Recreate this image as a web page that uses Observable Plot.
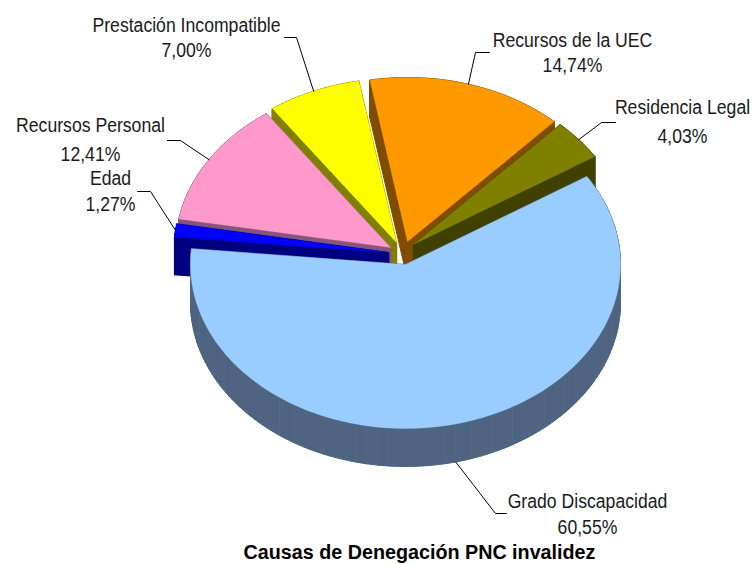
<!DOCTYPE html>
<html><head><meta charset="utf-8">
<style>html,body{margin:0;padding:0;background:#fff}svg{display:block}</style>
<script src="https://cdn.jsdelivr.net/npm/d3@7"></script>
<script src="https://cdn.jsdelivr.net/npm/@observablehq/plot@0.6"></script>
</head><body><div id="chart"></div>
<script>
const titleText = "Causas de Denegación PNC invalidez";
const names = ["Grado Discapacidad","Edad","Recursos Personal","Prestación Incompatible","Recursos de la UEC","Residencia Legal"];
const values = [60.55,1.27,12.41,7.00,14.74,4.03];
const topColors = ["#99CCFF","#0000FF","#FF99CC","#FFFF00","#FF9900","#808000"];
const wallColors = ["#4F6480","#000080","#85567A","#808000","#804C00","#404000"];
// layout only
const apexX = [405,388,390,396,407,413];
const apexY = [264,252,247,242,241,244];
const labelX = [587,110,90,186,572,682];
const nameY = [507,184,131,31,46,113];
const valueY = [533,210,160,56,71,142];
const elbowX = [495,150,180,296,475,601];
const elbowY = [513,191,140,37,52,122];
const endX = [506,137,167,284,489,615];
const rx = 215, ry = 164, depth = 38, startDeg = 57.5, W = 752, H = 564;
const paintOrder = [4,5,3,2,1,0];

const rad = d => d * Math.PI / 180;
const total = d3.sum(values);
const rim = (i, deg) => [apexX[i] + rx * Math.sin(rad(deg)), apexY[i] - ry * Math.cos(rad(deg))];
const cum = d3.cumsum(values);
const arc = i => {
  const a0 = startDeg + (i ? cum[i-1] : 0) / total * 360;
  const a1 = startDeg + cum[i] / total * 360;
  return [a0, a1];
};
const outline = i => {
  const [a0,a1] = arc(i);
  const n = Math.max(4, Math.ceil((a1-a0)/1.5));
  const pts = [[apexX[i],apexY[i]]];
  for (let k=0;k<=n;k++) pts.push(rim(i, a0+(a1-a0)*k/n));
  return pts;
};
const marks = [];
for (const i of paintOrder) {
  const pts = outline(i);
  const wall = [];
  pts.forEach((p,k)=>{
    const q = pts[(k+1)%pts.length];
    [p,q,[q[0],q[1]+depth],[p[0],p[1]+depth]].forEach(c=>wall.push({x:c[0],y:c[1],z:k,c:names[i]+" wall"}));
  });
  marks.push(Plot.line(wall,{x:"x",y:"y",z:"z",fill:"c",stroke:"c",strokeWidth:1,curve:"linear-closed"}));
  marks.push(Plot.line(pts.map(p=>({x:p[0],y:p[1],c:names[i]})),{x:"x",y:"y",fill:"c",stroke:"c",strokeWidth:0.3,curve:"linear-closed"}));
}
// leaders
const leaders = names.flatMap((n,i)=>{
  const [a0,a1]=arc(i), mid=(a0+a1)/2, s=rim(i,mid);
  const front = Math.cos(rad(mid))<0 ? depth : 0;
  return [[s[0],s[1]+front],[elbowX[i],elbowY[i]],[endX[i],elbowY[i]]].map(p=>({x:p[0],y:p[1],n}));
});
marks.push(Plot.line(leaders,{x:"x",y:"y",z:"n",stroke:"#000",strokeWidth:1}));
const fmt = v => v.toFixed(2).replace(".",",")+"%";
const labels = names.flatMap((n,i)=>[{t:n,x:labelX[i],y:nameY[i]},{t:fmt(values[i]),x:labelX[i],y:valueY[i]}]);
marks.push(Plot.text(labels,{x:"x",y:"y",text:"t",fill:"#1a1a1a",fontSize:21,textAnchor:"middle",lineAnchor:"bottom",fontFamily:"Liberation Sans",className:"lab"}));
marks.push(Plot.text([{t:titleText,x:419,y:558}],{x:"x",y:"y",text:"t",fill:"#000",fontSize:21,fontWeight:"bold",textAnchor:"middle",lineAnchor:"bottom",fontFamily:"Liberation Sans",className:"ttl"}));
const chart = Plot.plot({
  width:W,height:H,margin:0,
  style:{background:"#fff",overflow:"visible"},
  x:{domain:[0,W],range:[0,W],axis:null},
  y:{domain:[0,H],range:[0,H],axis:null},
  color:{domain:names.flatMap(n=>[n,n+" wall"]),range:topColors.flatMap((c,i)=>[c,wallColors[i]])},
  marks
});
chart.querySelectorAll(".lab text, text.lab").forEach(t=>t.setAttribute("transform",(t.getAttribute("transform")||"")+" scale(0.84,1)"));
chart.querySelectorAll(".ttl text, text.ttl").forEach(t=>t.setAttribute("transform",(t.getAttribute("transform")||"")+" scale(0.94,1)"));
document.getElementById("chart").append(chart);
</script></body></html>
